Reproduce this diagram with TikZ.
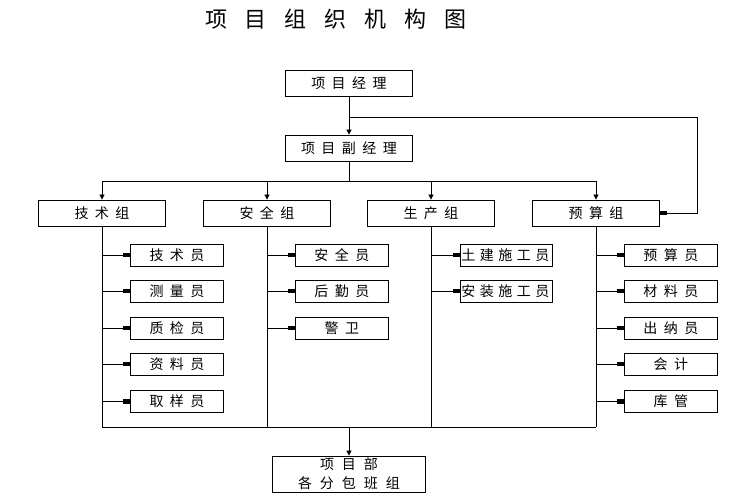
\documentclass[tikz,border=0pt]{standalone}
\usepackage{fontspec}
\newfontfamily\cjk{Noto Sans CJK SC}
\usetikzlibrary{arrows.meta}
\newcommand\gp{\hspace{6.5pt}}
\newcommand\gn{\hspace{4.5pt}}
\newcommand\gt{\hspace{18pt}}
\tikzset{
  box/.style={draw, line width=0.8pt, minimum height=26pt, minimum width=127pt, inner sep=0pt, font=\cjk\fontsize{14}{16}\selectfont},
  sbox/.style={box, minimum height=22pt, minimum width=93pt},
  ln/.style={line width=0.8pt},
  down/.style={ln, -{Triangle[length=5pt,width=5pt]}},
  side/.style={ln, -{Rectangle[length=7pt,width=4pt]}}
}
\begin{document}
\begin{tikzpicture}[x=1pt,y=-1pt]
\useasboundingbox (0,0) rectangle (737,497);
\node[font=\cjk\fontsize{22}{24}\selectfont] (title) at (336,19) {项\gt 目\gt 组\gt 织\gt 机\gt 构\gt 图};
\node[box] (pm) at (349,83) {项\gp 目\gp 经\gp 理};
\node[box] (dpm) at (349,148) {项\gp 目\gp 副\gp 经\gp 理};
\node[box] (g1) at (102,213) {技\gp 术\gp 组};
\node[box] (g2) at (267,213) {安\gp 全\gp 组};
\node[box] (g3) at (431,213) {生\gp 产\gp 组};
\node[box] (g4) at (596,213) {预\gp 算\gp 组};
% children
\node[sbox] (a1) at (177,255.3) {技\gp 术\gp 员};
\node[sbox] (a2) at (177,291.2) {测\gp 量\gp 员};
\node[sbox] (a3) at (177,328.2) {质\gp 检\gp 员};
\node[sbox] (a4) at (177,364.3) {资\gp 料\gp 员};
\node[sbox] (a5) at (177,401.3) {取\gp 样\gp 员};
\node[sbox] (b1) at (341.8,255.3) {安\gp 全\gp 员};
\node[sbox] (b2) at (341.8,291.2) {后\gp 勤\gp 员};
\node[sbox] (b3) at (341.8,328.2) {警\gp 卫};
\node[sbox, minimum width=92pt, align=left, text width=90pt, inner xsep=1pt] (c1) at (506.3,255.3) {土\gn 建\gn 施\gn 工\gn 员};
\node[sbox, minimum width=92pt, align=left, text width=90pt, inner xsep=1pt] (c2) at (506.3,291.2) {安\gn 装\gn 施\gn 工\gn 员};
\node[sbox] (d1) at (670.8,255.3) {预\gp 算\gp 员};
\node[sbox] (d2) at (670.8,291.2) {材\gp 料\gp 员};
\node[sbox] (d3) at (670.8,328.2) {出\gp 纳\gp 员};
\node[sbox] (d4) at (670.8,364.3) {会\gp 计};
\node[sbox] (d5) at (670.8,401.3) {库\gp 管};
\node[box, minimum width=153pt, minimum height=36pt, align=center, font=\cjk\fontsize{14}{19}\selectfont] (bot) at (349,474) {项\hspace{8pt}目\hspace{8pt}部\\各\hspace{8pt}分\hspace{8pt}包\hspace{8pt}班\hspace{8pt}组};
% top connectors
\coordinate (j1) at (349,117);
\coordinate (rc) at (697,117);
\draw[down] (pm.south) -- (dpm.north);
\draw[side] (j1) -- (rc) |- (g4.east);
\coordinate (j2) at (349,181);
\draw[ln] (dpm.south) -- (j2);
\draw[ln] (g1.north |- j2) -- (g4.north |- j2);
\foreach \g in {g1,g2,g3,g4} \draw[down] (\g.north |- j2) -- (\g.north);
% trunks
\coordinate (jb) at (349,427.3);
\foreach \g in {g1,g2,g3,g4} \draw[ln] (\g.south) -- (\g.south |- jb);
\draw[ln] (g1.south |- jb) -- (g4.south |- jb);
\draw[down] (jb) -- (bot.north);
% branches
\foreach \c in {a1,a2,a3,a4,a5} \draw[side] (\c.west -| g1.south) -- (\c.west);
\foreach \c in {b1,b2,b3} \draw[side] (\c.west -| g2.south) -- (\c.west);
\foreach \c in {c1,c2} \draw[side] (\c.west -| g3.south) -- (\c.west);
\foreach \c in {d1,d2,d3,d4,d5} \draw[side] (\c.west -| g4.south) -- (\c.west);
\end{tikzpicture}
\end{document}
